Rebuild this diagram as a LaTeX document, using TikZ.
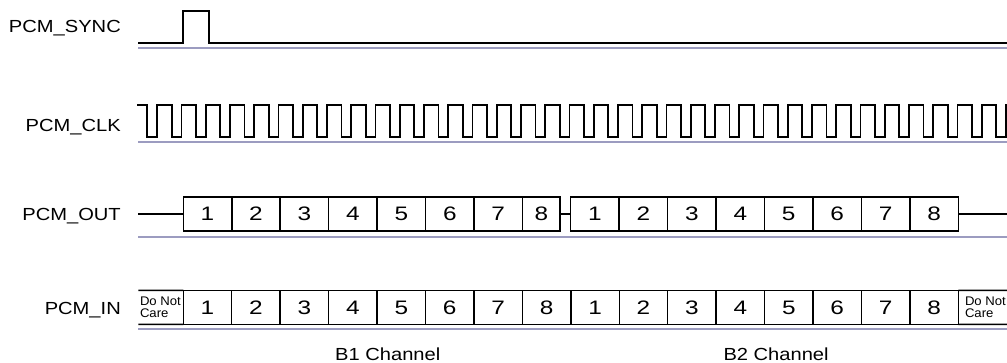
\documentclass[tikz,border=0pt]{standalone}
\usepackage{fontspec}
\setmainfont{Liberation Sans}
\newfontfamily\lblfont{Liberation Sans}[FakeStretch=1.15]
\newfontfamily\digfont{Liberation Sans}[FakeStretch=1.25]
\newfontfamily\notefont{Liberation Sans}[FakeStretch=1.05]
\usepackage{tikz}
\definecolor{Ink}{HTML}{000000}
\definecolor{Rail}{HTML}{9C9CC0}

\begin{document}
\begin{tikzpicture}[x=1pt,y=-1pt,
  sig/.style={line width=1.8pt,color=Ink},
  rail/.style={line width=1.8pt,color=Rail},
  lbl/.style={anchor=base east,inner sep=0pt,font=\lblfont\fontsize{17.5}{20}\selectfont},
  chan/.style={anchor=base west,inner sep=0pt,font=\lblfont\fontsize{17.5}{20}\selectfont},
  cell/.style={draw=Ink,line width=1.5pt,minimum width=48.45pt,minimum height=33.8pt,
    inner sep=0pt,outer sep=0pt,font=\digfont\fontsize{19.5}{21}\selectfont},
  note/.style={anchor=west,align=left,inner sep=0pt,font=\notefont\fontsize{12.5}{12}\selectfont}]
\useasboundingbox (0,0) rectangle (1007,363);

% signal names
\node[lbl] (lsync) at (121,33) {PCM\_SYNC};
\node[lbl] (lclk) at (121,131.5) {PCM\_CLK};
\node[lbl] (lout) at (121,220.5) {PCM\_OUT};
\node[lbl] (lin) at (121,315) {PCM\_IN};

% rails under each trace
\foreach \y in {48,142,236.7,329.3}
  \draw[rail] (138.3,\y) -- (1007,\y);

% PCM_SYNC
\draw[sig] (138.3,42.7) -| (183.3,11) -| (209.3,42.7) -- (1007,42.7);

% PCM_CLK
\draw[sig] (137,105) -| (147.25,137)
  foreach \k in {-1,...,34} { -| ({181.5+24.25*\k},105) -| ({195.9+24.25*\k},137) };

% PCM_OUT
\coordinate (ostart) at (138.3,214);
\coordinate (oend) at (1007,214);
\foreach \i in {1,...,7}
  \node[cell] (o\i) at ({183.3+48.45*(\i-0.5)},214) {\i};
\node[cell,minimum width=37.6pt] (o8) at (541.4,214) {8};
\foreach \i in {1,...,8}
  \node[cell] (p\i) at ({570.7+48.45*(\i-0.5)},214) {\i};
\draw[sig] (ostart) -- (o1.west);
\draw[sig] (o8.east) -- (p1.west);
\draw[sig] (p8.east) -- (oend);

% PCM_IN
\foreach \k in {1,...,16} {
  \pgfmathtruncatemacro\d{mod(\k-1,8)+1}
  \node[cell] (i\k) at ({183.3+48.44*(\k-0.5)},307.4) {\d};
}
\coordinate (itl) at (138.3,290.5);
\coordinate (ibl) at (138.3,324.3);
\coordinate (itr) at (1007,290.5);
\coordinate (ibr) at (1007,324.3);
\draw[line width=1.5pt] (itl) -- (i1.north west) (ibl) -- (i1.south west);
\draw[line width=1.5pt] (i16.north east) -- (itr) (i16.south east) -- (ibr);
\node[note] (dncl) at (139.8,307.6) {Do Not\\Care};
\node[note] (dncr) at (964.8,307.6) {Do Not\\Care};

% channels
\node[chan] (b1) at (335,360) {B1 Channel};
\node[chan] (b2) at (723.3,360) {B2 Channel};
\end{tikzpicture}
\end{document}
